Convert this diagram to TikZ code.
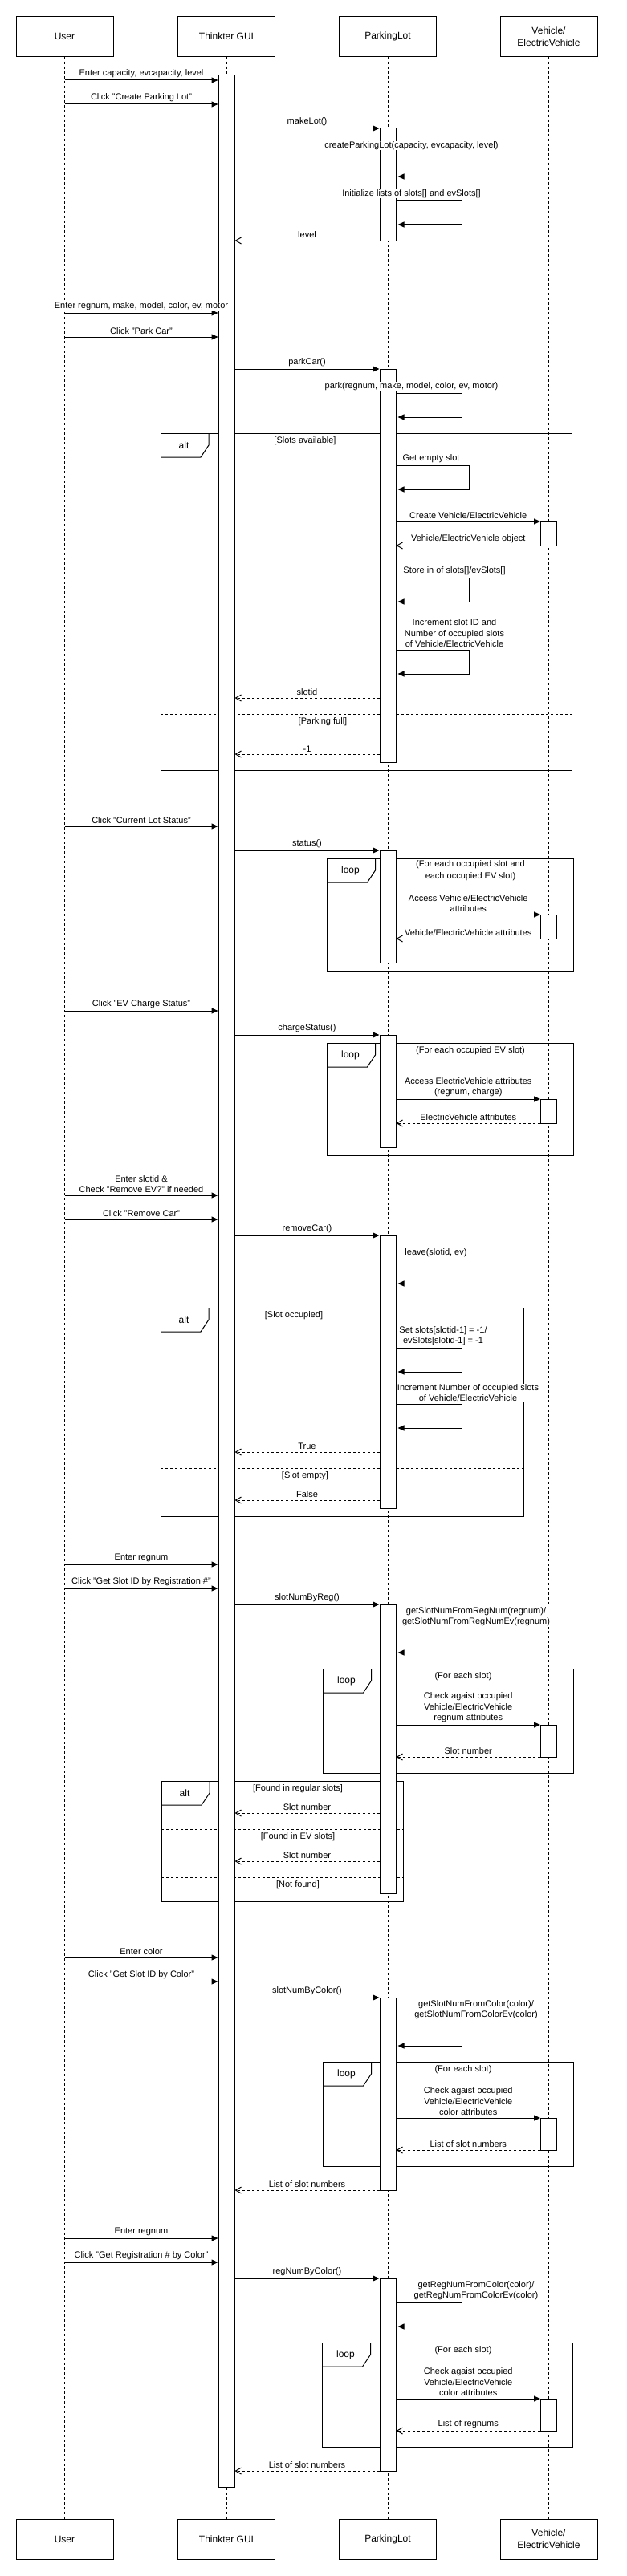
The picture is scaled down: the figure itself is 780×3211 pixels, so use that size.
\documentclass[tikz,border=0pt]{standalone}
\usepackage{fontspec}
\setmainfont{Liberation Sans}
\usetikzlibrary{arrows.meta}

\begin{document}
\begin{tikzpicture}[x=1pt,y=-1pt,line width=1pt,
		actor/.style={draw,fill=white,minimum width=121,minimum height=50,align=center,font=\fontsize{12}{15}\selectfont},
		act/.style={draw,fill=white,minimum width=20,inner sep=0pt},
		life/.style={dash pattern=on 3pt off 3pt},
		call/.style={-{Triangle[length=8pt,width=7pt]}},
		ret/.style={dash pattern=on 3pt off 3pt,-{Straight Barb[length=7pt,width=8pt]}},
		lbl/.style={fill=white,inner sep=0.5pt,align=center,font=\fontsize{11}{13.5}\selectfont},
		guard/.style={inner sep=0pt,align=center,font=\fontsize{11}{15}\selectfont},
		tag/.style={inner sep=0pt,font=\fontsize{12}{14}\selectfont}]
		\def\xu{80.5}
		\def\xg{282}
		\def\xp{483}
		\def\xv{683.5}
		\useasboundingbox (0,0) rectangle (780,3211);
		% heads and feet of the lifelines
		\node[actor] (user) at (\xu,45.25) {User};
		\node[actor] (gui) at (\xg,45.25) {Thinkter GUI};
		\node[actor] (lot) at (\xp,45.25) {ParkingLot};
		\node[actor] (veh) at (\xv,45.25) {Vehicle/\\ElectricVehicle};
		\node[actor] (user2) at (\xu,3165) {User};
		\node[actor] (gui2) at (\xg,3165) {Thinkter GUI};
		\node[actor] (lot2) at (\xp,3165) {ParkingLot};
		\node[actor] (veh2) at (\xv,3165) {Vehicle/\\ElectricVehicle};
		\foreach \ta/\tb in {user/user2,gui/gui2,lot/lot2,veh/veh2}
			\draw[life] (\ta) -- (\tb);
		% alt and loop frames
		\foreach \xa/\ya/\xb/\yb/\kind [count=\i] in {200/540/712/960/alt,407.5/1070/714/1210/loop,407.5/1300/714/1440/loop,200/1630/652/1890/alt,402.5/2080/714/2210/loop,201/2220/502.5/2370/alt,402.5/2570/714/2700/loop,401.5/2920/713/3050/loop}{
			\draw (\xa,\ya) rectangle (\xb,\yb);
			\draw (\xa,\ya+30) -- (\xa+50,\ya+30) -- (\xa+60,\ya+15) -- (\xa+60,\ya);
			\node[tag] (frame\i) at (\xa+29,\ya+15) {\kind};
		}
		\draw[life] (200,890) -- (712,890);
		\draw[life] (200,1830) -- (652,1830);
		\draw[life] (201,2280) -- (502.5,2280);
		\draw[life] (201,2340) -- (502.5,2340);
		\node[guard] (g1) at (380,550) {[Slots available]};
		\node[guard] (g2) at (402,900) {[Parking full]};
		\node[guard] (g3) at (366,1640) {[Slot occupied]};
		\node[guard] (g4) at (380,1840) {[Slot empty]};
		\node[guard] (g5) at (371,2230) {[Found in regular slots]};
		\node[guard] (g6) at (371,2290) {[Found in EV slots]};
		\node[guard] (g7) at (371,2350) {[Not found]};
		\node[guard] (c1) at (586,1085.5) {(For each occupied slot and\\each occupied EV slot)};
		\node[guard] (c2) at (586,1310) {(For each occupied EV slot)};
		\node[guard] (c3) at (577,2090) {(For each slot)};
		\node[guard] (c4) at (577,2580) {(For each slot)};
		\node[guard] (c5) at (577,2930) {(For each slot)};
		% activation bars
		\foreach \n/\lx/\ya/\yb in {ga/\xg/94/3100,p1/\xp/160/300,p2/\xp/460/950,p3/\xp/1060/1200,p4/\xp/1290/1430,p5/\xp/1540/1880,p6/\xp/2000/2360,p7/\xp/2490/2730,p8/\xp/2840/3080,v1/\xv/650/680,v2/\xv/1140/1170,v3/\xv/1370/1400,v4/\xv/2150/2190,v5/\xv/2640/2680,v6/\xv/2990/3030}
			\node[act,minimum height={\yb-\ya}] (\n) at (\lx,{(\ya+\yb)/2}) {};
		% user -> GUI
		\foreach \y/\txt [count=\i] in {100/{Enter capacity, evcapacity, level},130/{Click "Create Parking Lot"},390/{Enter regnum, make, model, color, ev, motor},420/{Click "Park Car"},1030/{Click "Current Lot Status"},1260/{Click "EV Charge Status"},1490/{Enter slotid \&\\Check "Remove EV?" if needed},1520/{Click "Remove Car"},1950/{Enter regnum},1980/{Click "Get Slot ID by Registration \#"},2440/{Enter color},2470/{Click "Get Slot ID by Color"},2790/{Enter regnum},2820/{Click "Get Registration \# by Color"}}{
			\coordinate (u\i) at (\xu,\y);
			\draw[call] (u\i) -- node[lbl,above=2pt] (ul\i) {\txt} (u\i -| ga.west);
		}
		% GUI -> ParkingLot
		\foreach \y/\p/\txt [count=\i] in {160/p1/{makeLot()},460/p2/{parkCar()},1060/p3/{status()},1290/p4/{chargeStatus()},1540/p5/{removeCar()},2000/p6/{slotNumByReg()},2490/p7/{slotNumByColor()},2840/p8/{regNumByColor()}}{
			\coordinate (g\i) at (ga.east |- 0,\y);
			\draw[call] (g\i) -- node[lbl,above=2pt] (gl\i) {\txt} (g\i -| \p.west);
		}
		% ParkingLot -> Vehicle
		\foreach \y/\p/\vb/\txt [count=\i] in {650/p2/v1/{Create Vehicle/ElectricVehicle},1140/p3/v2/{Access Vehicle/ElectricVehicle\\attributes},1370/p4/v3/{Access ElectricVehicle attributes\\(regnum, charge)},2150/p6/v4/{Check agaist occupied\\Vehicle/ElectricVehicle\\regnum attributes},2640/p7/v5/{Check agaist occupied\\Vehicle/ElectricVehicle\\color attributes},2990/p8/v6/{Check agaist occupied\\Vehicle/ElectricVehicle\\color attributes}}{
			\coordinate (c\i) at (\p.east |- 0,\y);
			\draw[call] (c\i) -- node[lbl,above=2pt] (cl\i) {\txt} (c\i -| \vb.west);
		}
		% Vehicle -> ParkingLot
		\foreach \y/\p/\vb/\txt [count=\i] in {680/p2/v1/{Vehicle/ElectricVehicle object},1170/p3/v2/{Vehicle/ElectricVehicle attributes},1400/p4/v3/{ElectricVehicle attributes},2190/p6/v4/{Slot number},2680/p7/v5/{List of slot numbers},3030/p8/v6/{List of regnums}}{
			\coordinate (r\i) at (\vb.west |- 0,\y);
			\draw[ret] (r\i) -- node[lbl,above=2pt] (rl\i) {\txt} (r\i -| \p.east);
		}
		% ParkingLot -> GUI
		\foreach \y/\p/\txt [count=\i] in {300/p1/level,870/p2/slotid,940/p2/-1,1810/p5/True,1870/p5/False,2260/p6/{Slot number},2320/p6/{Slot number},2730/p7/{List of slot numbers},3080/p8/{List of slot numbers}}{
			\coordinate (b\i) at (\p.west |- 0,\y);
			\draw[ret] (b\i) -- node[lbl,above=2pt] (bl\i) {\txt} (b\i -| ga.east);
		}
		% self calls on ParkingLot
		\foreach \y/\p/\w/\lx/\txt [count=\i] in {190/p1/82/512.5/{createParkingLot(capacity, evcapacity, level)},250/p1/82/512.5/{Initialize lists of slots[] and evSlots[]},490/p2/82/512.5/{park(regnum, make, model, color, ev, motor)},580/p2/91/537/{Get empty slot},720/p2/91/566/{Store in of slots[]/evSlots[]},810/p2/91/566/{Increment slot ID and\\Number of occupied slots\\of Vehicle/ElectricVehicle},1570/p5/82/543/{leave(slotid, ev)},1680/p5/82/552/{Set slots[slotid-1] = -1/\\evSlots[slotid-1] = -1},1750/p5/82/583/{Increment Number of occupied slots\\of Vehicle/ElectricVehicle},2030/p6/82/593/{getSlotNumFromRegNum(regnum)/\\getSlotNumFromRegNumEv(regnum)},2520/p7/82/593/{getSlotNumFromColor(color)/\\getSlotNumFromColorEv(color)},2870/p8/82/593/{getRegNumFromColor(color)/\\getRegNumFromColorEv(color)}}{
			\coordinate (s\i) at (\p.east |- 0,\y);
			\draw[call] (s\i) -- ++(\w,0) -- ++(0,30) -- ++({2-\w},0);
			\node[lbl,above=2pt] (sl\i) at (\lx,\y) {\txt};
		}
		\end{tikzpicture}
\end{document}
